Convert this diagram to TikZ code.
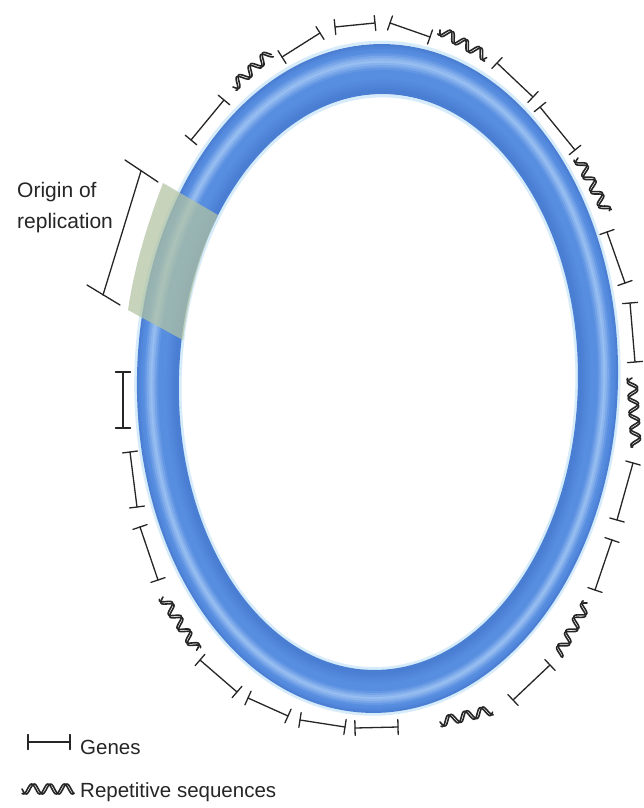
\documentclass[tikz,border=0pt]{standalone}
\usepackage{fontspec}
\setmainfont{Liberation Sans}
\usetikzlibrary{calc}

\definecolor{ink}{RGB}{38,38,38}
\definecolor{rdark}{RGB}{62,112,200}
\definecolor{rmid}{RGB}{88,142,224}
\definecolor{rlight}{RGB}{162,198,244}
\definecolor{rhalo}{RGB}{214,236,250}
\definecolor{sleevegreen}{RGB}{178,196,162}

% read the canvas position of a named coordinate
\newcommand\getxy[3]{\path (#1); \pgfgetlastxy{#2}{#3}}

% gene: a bar with a tick across each end
\newcommand\genemark[3]{%
  \coordinate (#1a) at #2; \coordinate (#1b) at #3;
  \draw[gene] (#1a) -- (#1b);
  \draw[gene] ($(#1a)!7.5pt!90:(#1b)$) -- ($(#1a)!7.5pt!-90:(#1b)$);
  \draw[gene] ($(#1b)!7.5pt!90:(#1a)$) -- ($(#1b)!7.5pt!-90:(#1a)$);
}

% repetitive sequence: a short twisted ribbon between two points
\newcommand\helixmark[3]{%
  \coordinate (#1a) at #2; \coordinate (#1b) at #3;
  \getxy{#1a}{\hxA}{\hyA}\getxy{#1b}{\hxB}{\hyB}%
  \pgfmathsetmacro\hang{atan2(\hyB-\hyA,\hxB-\hxA)}%
  \pgfmathsetmacro\hlen{veclen(\hxB-\hxA,\hyB-\hyA)}%
  \begin{scope}[shift={(#1a)}, rotate=\hang]
    \foreach \ph in {0,60}{
      \draw[strand] plot[variable=\s, domain=0:\hlen, samples=60, smooth]
        (\s,{5*sin(\s*22+\ph)});
    }
  \end{scope}
}

\begin{document}
\begin{tikzpicture}[x=1pt, y=-1pt,
  gene/.style={draw=ink, line width=1.3pt, line cap=round},
  strand/.style={draw=ink, line width=1.6pt, line cap=round},
  lab/.style={font=\fontsize{21}{25}\selectfont, text=ink, inner sep=0pt},
  leg/.style={font=\fontsize{20.5}{24}\selectfont, text=ink, inner sep=0pt}]
\useasboundingbox (0,0) rectangle (644,808);
\fill[white] (0,0) rectangle (644,808);

% circular chromosome: a shaded tube built from nested ellipses
\begin{scope}[rotate around={-1.5:(378,378)}]
  \foreach \t/\c in {-0.07/rhalo, 1.07/rhalo}{
    \draw[line width=3pt, color=\c] ({377.5+\t},{378.5+3.5*\t})
      ellipse [x radius={239pt-38pt*\t}, y radius={333pt-43.5pt*\t}];
  }
  \foreach \t/\c in {
      0.00/rdark!50!rmid, 0.05/rdark!30!rmid, 0.10/rdark!10!rmid,
      0.15/rmid, 0.20/rmid!80!rlight, 0.25/rmid!55!rlight,
      0.30/rmid!30!rlight, 0.35/rmid!15!rlight, 0.40/rmid!35!rlight,
      0.45/rmid!60!rlight, 0.50/rmid!85!rlight, 0.55/rmid,
      0.60/rmid, 0.65/rmid, 0.70/rmid, 0.75/rdark!10!rmid,
      0.80/rdark!20!rmid, 0.85/rdark!30!rmid, 0.90/rdark!40!rmid,
      0.95/rdark!50!rmid, 1.00/rdark!55!rmid}{
    \draw[line width=3pt, color=\c] ({377.5+\t},{378.5+3.5*\t})
      ellipse [x radius={239pt-38pt*\t}, y radius={333pt-43.5pt*\t}];
  }
\end{scope}

% origin of replication: translucent sleeve over the tube
\fill[sleevegreen, fill opacity=0.72]
  (163,183) .. controls (147,225) and (134,268) .. (128,310)
  -- (183,340) .. controls (188,298) and (200,252) .. (218,215) -- cycle;

% bracket and label
\coordinate (brt1) at (125,160); \coordinate (brt2) at (158,182);
\coordinate (brm1) at (141,171); \coordinate (brm2) at (103,295);
\coordinate (brb1) at (87,285);  \coordinate (brb2) at (120,305);
\draw[gene] (brt1) -- (brt2);
\draw[gene] (brm1) -- (brm2);
\draw[gene] (brb1) -- (brb2);
\node[lab, anchor=base west] (ori1) at (17,197) {Origin of};
\node[lab, anchor=base west] (ori2) at (17,228) {replication};

% genes around the ring
\foreach \ax/\ay/\bx/\by [count=\i] in {
    191/140/224/100, 282/57/320/33, 335/27/375/23, 390/23/430/37,
    497/63/533/97, 540/107/575/150, 607/232/625/283, 630/303/635/362,
    633/463/617/520, 612/540/595/590, 550/665/513/700,
    200/660/237/692, 248/698/288/716, 300/720/345/727, 355/728/398/727,
    140/527/158/580, 130/452/137/507, 123/372/123/428}{
  \genemark{g\i}{(\ax,\ay)}{(\bx,\by)}
}

% repetitive sequences around the ring
\foreach \ax/\ay/\bx/\by [count=\i] in {
    233/87/270/53, 440/30/487/57, 578/158/607/212, 632/378/636/447,
    587/603/558/655, 163/597/197/650, 440/722/492/710}{
  \helixmark{r\i}{(\ax,\ay)}{(\bx,\by)}
}

% legend
\genemark{lg}{(28,742)}{(70,742)}
\node[leg, anchor=base west] (lgt) at (80,754) {Genes};
\helixmark{lr}{(22,789)}{(74,789)}
\node[leg, anchor=base west] (lrt) at (80,797) {Repetitive sequences};
\end{tikzpicture}
\end{document}
